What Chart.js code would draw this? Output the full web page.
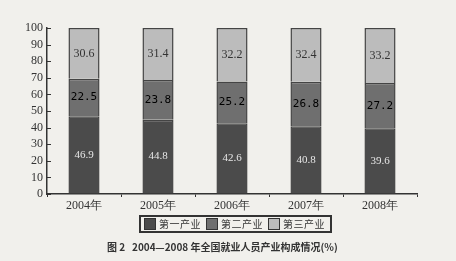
<!DOCTYPE html>
<html>
<head>
<meta charset="utf-8">
<script src="https://cdn.jsdelivr.net/npm/chart.js@4"></script>
<style>
  html,body{margin:0;padding:0;background:#f1f0ec;}
  #wrap{position:relative;width:456px;height:261px;overflow:hidden;}
  canvas{display:block;}
  #legend{position:absolute;left:139px;top:215px;width:186px;height:14px;border:2px solid #333;
    font:10px "Noto Sans CJK SC";color:#333;display:flex;align-items:center;padding-left:3px;
    box-sizing:content-box;white-space:nowrap;letter-spacing:0.5px;}
  #legend span{display:inline-flex;align-items:center;margin-right:5px;line-height:14px;}
  #legend i{display:inline-block;width:10px;height:10px;border:1px solid #333;margin-right:3px;}
  #caption{position:absolute;left:107px;top:239px;font:bold 10px "Noto Sans CJK SC";color:#333;white-space:pre;}
</style>
</head>
<body>
<div id="wrap">
  <canvas id="chart" width="456" height="261"></canvas>
  <div id="legend"></div>
  <div id="caption">图 2   2004—2008 年全国就业人员产业构成情况(%)</div>
</div>
<script>
const years = ['2004年','2005年','2006年','2007年','2008年'];
const primary = [46.9, 44.8, 42.6, 40.8, 39.6];
const secondary = [22.5, 23.8, 25.2, 26.8, 27.2];
const tertiary = [30.6, 31.4, 32.2, 32.4, 33.2];
const names = ['第一产业','第二产业','第三产业'];
const colors = ['#4b4b4b','#6f6f6f','#bcbcbc'];
const labelStyle = [
  {font:'11px "Liberation Serif"', color:'#e6e6e6'},
  {font:'11px "DejaVu Sans Mono"', color:'#000'},
  {font:'12px "Liberation Serif"', color:'#333'}
];

// legend
document.getElementById('legend').innerHTML = names.map((n,i)=>
  `<span><i style="background:${colors[i]}"></i>${n}</span>`).join('');

const valueLabels = {
  id:'valueLabels',
  afterDatasetsDraw(chart){
    const ctx = chart.ctx;
    chart.data.datasets.forEach((ds,di)=>{
      const meta = chart.getDatasetMeta(di);
      meta.data.forEach((bar,i)=>{
        const mid = (bar.y + bar.base)/2;
        ctx.save();
        ctx.font = labelStyle[di].font;
        ctx.fillStyle = labelStyle[di].color;
        ctx.textAlign = 'center';
        ctx.textBaseline = 'middle';
        ctx.fillText(ds.data[i].toFixed(1), bar.x, mid);
        ctx.restore();
      });
    });
  }
};

// small inward ticks on the y axis
const innerTicks = {
  id:'innerTicks',
  afterDraw(chart){
    const y = chart.scales.y, ctx = chart.ctx, x0 = chart.chartArea.left;
    ctx.save();
    ctx.strokeStyle = '#333'; ctx.lineWidth = 1;
    y.ticks.forEach(t=>{
      const py = Math.round(y.getPixelForValue(t.value)) + 0.5;
      ctx.beginPath(); ctx.moveTo(x0, py); ctx.lineTo(x0+4, py); ctx.stroke();
    });
    ctx.restore();
  }
};

new Chart(document.getElementById('chart'), {
  type:'bar',
  data:{
    labels: years,
    datasets:[
      {label:names[0], data:primary, backgroundColor:colors[0]},
      {label:names[1], data:secondary, backgroundColor:colors[1]},
      {label:names[2], data:tertiary, backgroundColor:colors[2]}
    ].map(d=>Object.assign(d,{borderColor:'#444', borderWidth:1.5, categoryPercentage:1, barPercentage:0.42}))
  },
  options:{
    responsive:false,
    animation:false,
    layout:{padding:{top:28, right:39, left:0, bottom:0}},
    plugins:{legend:{display:false}, tooltip:{enabled:false}},
    scales:{
      x:{
        stacked:true,
        grid:{drawOnChartArea:false, offset:true, tickLength:3, color:'#333'},
        border:{color:'#333', width:1.5},
        ticks:{color:'#333', font:{family:'"Liberation Serif"', size:12}, padding:2},
        afterFit(s){ s.height = 67; }
      },
      y:{
        stacked:true, min:0, max:100,
        grid:{drawOnChartArea:false, drawTicks:false},
        border:{color:'#333', width:1.5},
        ticks:{stepSize:10, autoSkip:false, color:'#333', font:{family:'"Liberation Serif"', size:12}, padding:4},
        afterFit(s){ s.width = 47; }
      }
    }
  },
  plugins:[valueLabels, innerTicks]
});
</script>
</body>
</html>
